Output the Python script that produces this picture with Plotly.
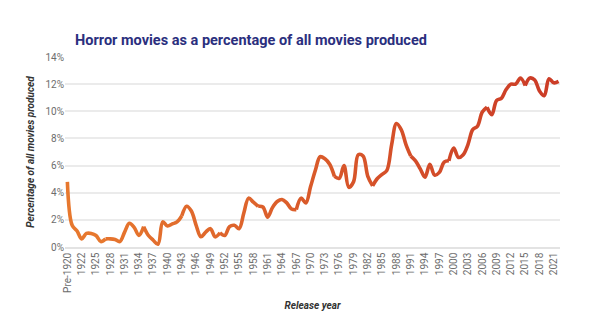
import plotly.graph_objects as go

categories = ["Pre-1920"] + [str(y) for y in range(1920, 2023)]

values = [
    4.8, 1.6, 1.2, 0.6, 1.0, 1.0, 0.85, 0.4, 0.6, 0.6,
    0.55, 0.4, 1.1, 1.75, 1.45, 0.85, 1.5, 0.85, 0.5, 0.2,
    1.85, 1.55, 1.7, 1.85, 2.3, 3.0, 2.65, 1.6, 0.75, 1.1,
    1.35, 0.75, 1.05, 0.85, 1.5, 1.6, 1.35, 2.5, 3.6, 3.3,
    3.0, 2.95, 2.2, 2.9, 3.35, 3.5, 3.25, 2.8, 2.75, 3.6,
    3.25, 4.45, 5.65, 6.65, 6.5, 6.1, 5.2, 5.05, 6.0, 4.4,
    4.8, 6.8, 6.7, 5.2, 4.5, 5.05, 5.35, 5.65, 7.55, 9.1,
    8.65, 7.55, 6.7, 6.35, 5.75, 5.15, 6.1, 5.3, 5.5, 6.25,
    6.35, 7.3, 6.6, 6.8, 7.55, 8.65, 8.9, 9.95, 10.3, 9.75,
    10.8, 10.95, 11.6, 12.0, 12.0, 12.45, 11.9, 12.45, 12.3, 11.5,
    11.15, 12.4, 12.1, 12.2,
]

tick_labels = categories[::3]
y_ticks = [0, 2, 4, 6, 8, 10, 12, 14]
y_tick_labels = [f"{v}%" for v in y_ticks]

c_start = (232, 122, 46)
c_end = (203, 59, 39)

fig = go.Figure()
n = len(values)
seg = 8
starts = list(range(0, n - 1, seg))
for k, s in enumerate(starts):
    e = min(s + seg + 1, n)
    t = (s + seg / 2) / (n - 1)
    t = min(max(t, 0), 1)
    col = tuple(int(round(c_start[j] + (c_end[j] - c_start[j]) * t)) for j in range(3))
    fig.add_trace(go.Scatter(
        x=categories[s:e], y=values[s:e],
        mode="lines",
        line=dict(color=f"rgb{col}", width=3.6, shape="spline", smoothing=1.0),
        hoverinfo="skip", showlegend=False,
    ))

fig.update_layout(
    width=605, height=322,
    margin=dict(l=65, r=45, t=57, b=70),
    paper_bgcolor="white", plot_bgcolor="white",
    title=dict(
        text="Horror movies as a percentage of all movies produced",
        x=251 / 605, xanchor="center", xref="container",
        y=1 - 40 / 322, yanchor="middle", yref="container",
        font=dict(family="Roboto", size=14.5, color="#2b2f7e", weight="bold"),
    ),
    showlegend=False,
)

fig.update_xaxes(
    type="category",
    categoryorder="array", categoryarray=categories,
    range=[-0.5, 103.3],
    tickmode="array", tickvals=tick_labels, ticktext=tick_labels,
    tickangle=-90,
    tickfont=dict(family="Roboto", size=10, color="#6d6d6d"),
    showgrid=False, showline=True, linecolor="#e3e3e3", linewidth=1.5,
    ticks="",
    title=dict(text="Release year", standoff=10,
               font=dict(family="Roboto", size=10, color="#333333",
                         weight="bold", style="italic")),
)

fig.update_yaxes(
    range=[0, 14],
    tickmode="array", tickvals=y_ticks, ticktext=y_tick_labels,
    tickfont=dict(family="Roboto", size=10, color="#6d6d6d"),
    showgrid=True, gridcolor="#ebebeb", gridwidth=1.5,
    zeroline=False, showline=False, ticks="",
    title=dict(text="Percentage of all movies produced", standoff=8,
               font=dict(family="Roboto", size=10, color="#333333",
                         weight="bold", style="italic")),
)

fig.write_html("out.html")
